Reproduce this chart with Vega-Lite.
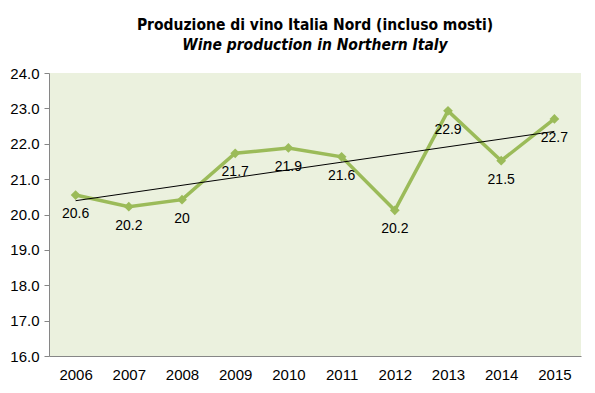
{
  "$schema": "https://vega.github.io/schema/vega-lite/v6.json",
  "width": 532,
  "height": 283,
  "autosize": {"type": "none"},
  "padding": {"left": 49, "top": 73, "right": 14, "bottom": 37},
  "background": "#ffffff",
  "title": {
    "text": "Produzione di vino Italia Nord (incluso mosti)",
    "subtitle": "Wine production in Northern Italy",
    "anchor": "middle",
    "frame": "group",
    "font": "DejaVu Sans Condensed",
    "fontSize": 15.5,
    "fontWeight": "bold",
    "color": "#000000",
    "subtitleFont": "DejaVu Sans Condensed",
    "subtitleFontSize": 15.5,
    "subtitleFontWeight": "bold",
    "subtitleFontStyle": "italic",
    "subtitleColor": "#000000",
    "subtitlePadding": 4,
    "offset": 13
  },
  "config": {
    "view": {"fill": "#EBF1DE", "stroke": null},
    "axis": {
      "labelFont": "Liberation Sans",
      "labelColor": "#000000",
      "domainColor": "#868686",
      "tickColor": "#868686",
      "grid": false,
      "title": null
    }
  },
  "data": {
    "values": [
      {"year": 2006, "value": 20.55, "label": "20.6"},
      {"year": 2007, "value": 20.22, "label": "20.2"},
      {"year": 2008, "value": 20.42, "label": "20"},
      {"year": 2009, "value": 21.73, "label": "21.7"},
      {"year": 2010, "value": 21.88, "label": "21.9"},
      {"year": 2011, "value": 21.63, "label": "21.6"},
      {"year": 2012, "value": 20.12, "label": "20.2"},
      {"year": 2013, "value": 22.93, "label": "22.9"},
      {"year": 2014, "value": 21.52, "label": "21.5"},
      {"year": 2015, "value": 22.70, "label": "22.7"}
    ]
  },
  "encoding": {
    "x": {
      "field": "year",
      "type": "ordinal",
      "scale": {"type": "point", "padding": 0.5},
      "axis": {"labelAngle": 0, "ticks": false, "labelFontSize": 15, "labelPadding": 11, "domainWidth": 1}
    },
    "y": {
      "field": "value",
      "type": "quantitative",
      "scale": {"domain": [16, 24], "nice": false, "zero": false},
      "axis": {"values": [16, 17, 18, 19, 20, 21, 22, 23, 24], "format": ".1f", "labelFontSize": 15, "tickSize": 5, "labelPadding": 5}
    }
  },
  "layer": [
    {
      "mark": {"type": "line", "color": "#9BBB59", "strokeWidth": 3.5}
    },
    {
      "mark": {"type": "point", "shape": "diamond", "filled": true, "color": "#9BBB59", "opacity": 1, "size": 95}
    },
    {
      "transform": [{"regression": "value", "on": "year"}],
      "mark": {"type": "line", "color": "#000000", "strokeWidth": 1}
    },
    {
      "mark": {"type": "text", "font": "Liberation Sans", "fontSize": 14, "color": "#000000", "dy": 19, "baseline": "middle"},
      "encoding": {"text": {"field": "label"}}
    }
  ]
}
